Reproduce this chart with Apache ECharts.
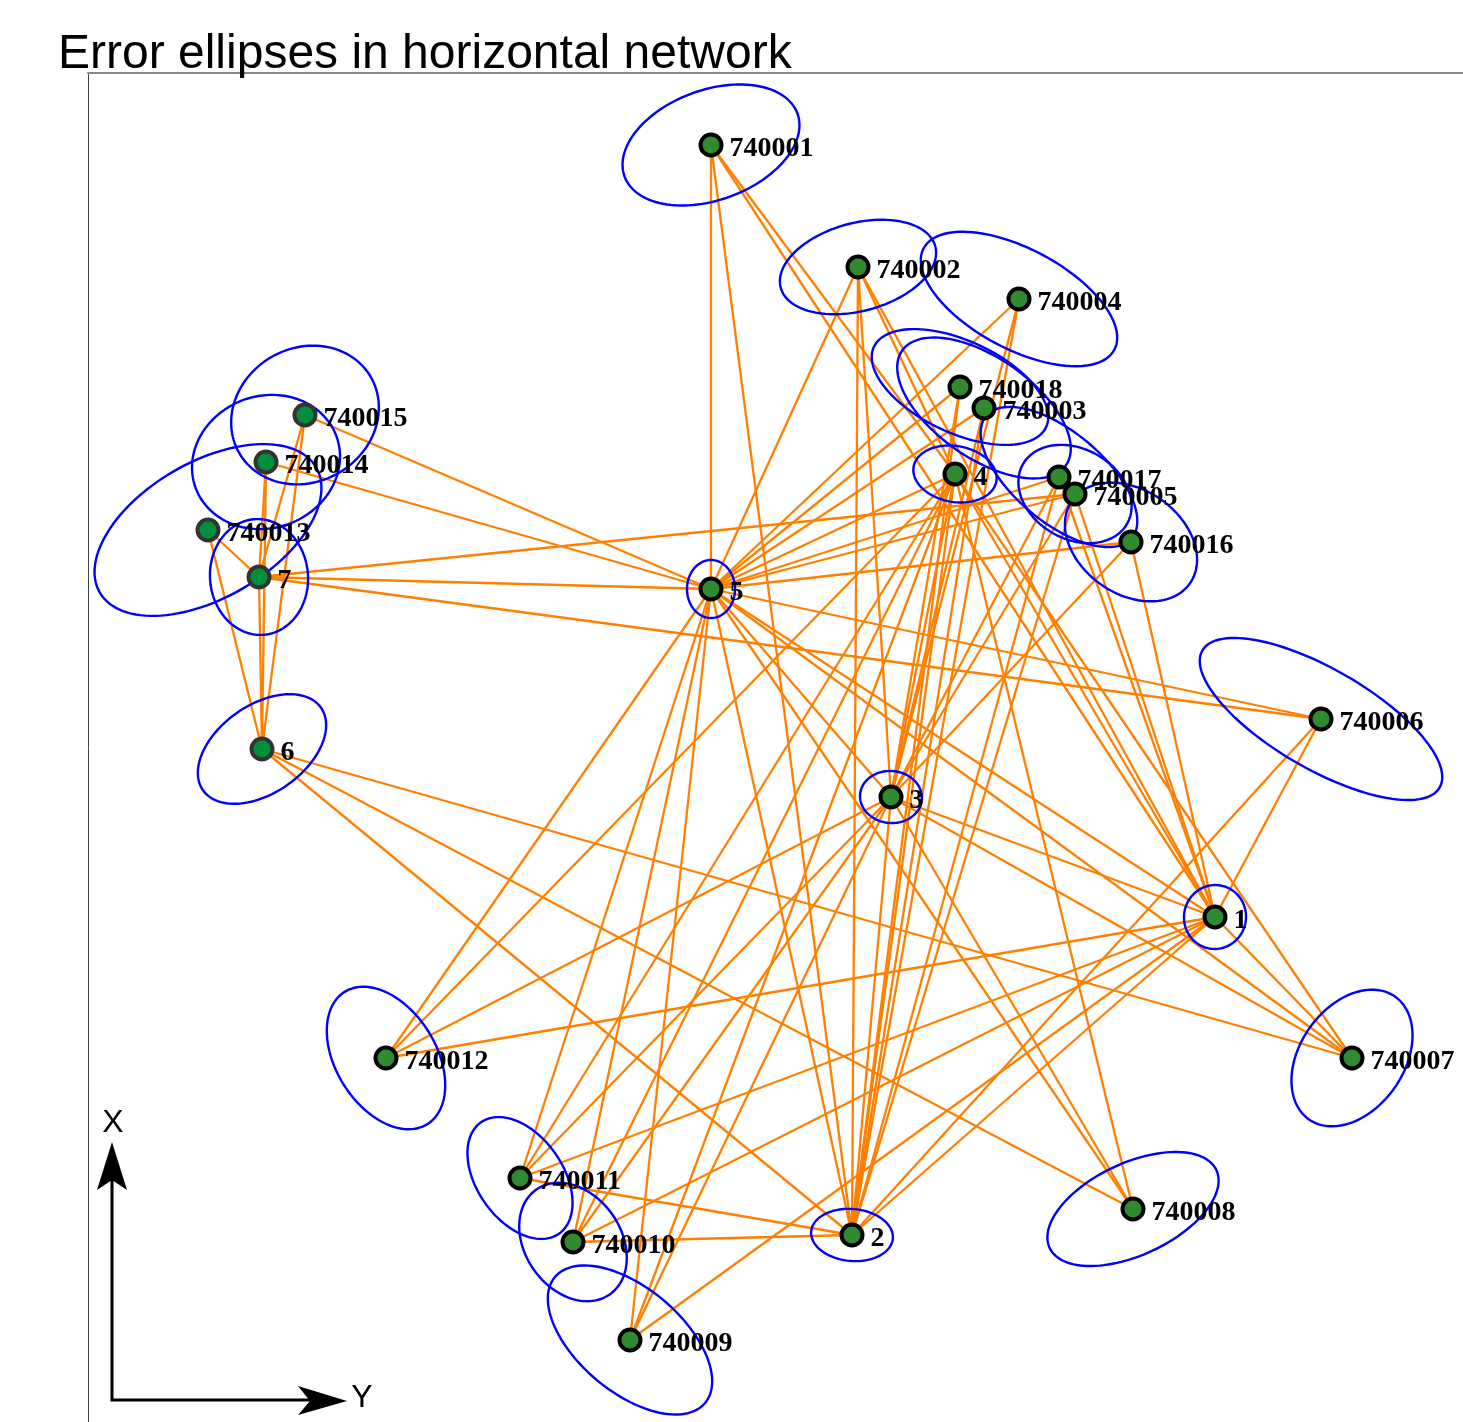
<!DOCTYPE html>
<html>
<head>
<meta charset="utf-8">
<script src="https://cdn.jsdelivr.net/npm/echarts@6/dist/echarts.min.js"></script>
<style>html,body{margin:0;padding:0;background:#fff;}#c{width:1463px;height:1422px;}</style>
</head>
<body>
<div id="c"></div>
<script>
// Point names and coordinates (East = horizontal "Y", North = vertical "X")
const names = ['740001','740002','740004','740018','740003','4','740017','740005','740016','740015','740014','740013','7','5','6','740006','3','1','740012','740007','740011','740010','2','740008','740009'];
const east  = [623, 770, 931, 872, 896, 867, 971, 987, 1043, 217, 178, 120, 171, 623, 174, 1233, 803, 1127, 298, 1264, 432, 485, 764, 1045, 542];
const north = [1277,1155,1123,1035,1014, 948, 945, 928, 880, 1007, 960, 892, 845, 833, 673, 703, 625, 505, 364, 364, 244, 180, 187, 213, 82];

// Error ellipse parameters (semi-major, semi-minor, rotation deg from East axis)
const semiMajor = [92, 80, 108, 95, 100, 42, 95, 60, 72, 76, 75, 125, 58, 29, 72, 137, 31, 32, 78, 75, 68, 64, 41, 92, 98];
const semiMinor = [55, 44, 50, 46, 50, 28, 45, 45, 52, 67, 66, 68, 49, 24, 44, 50, 26, 31, 50, 52, 43, 48, 26, 46, 52];
const rotation  = [20, 15, -28, -25, -35, -10, -40, -30, -35, 30, 20, 30, 95, 90, 35, -30, -5, 80, -58, 55, -55, -55, -5, 25, -40];

// Observations (station -> target)
const observations = [
  ['5','740001'],['5','740002'],['5','740004'],['5','740018'],['5','740003'],['5','4'],['5','740017'],['5','740005'],['5','740016'],
  ['5','740015'],['5','740014'],['5','7'],['5','740006'],['5','1'],['5','740007'],['5','3'],['5','740012'],['5','740011'],
  ['5','740010'],['5','740009'],['5','2'],['5','740008'],
  ['7','740015'],['7','740014'],['7','740013'],['7','6'],['7','740005'],['7','740006'],
  ['6','740015'],['6','740014'],['6','740013'],['6','740007'],['6','740008'],['6','2'],
  ['4','740001'],['4','740002'],['4','740012'],['4','740011'],['4','740010'],['4','740009'],['4','2'],['4','3'],['4','740008'],['4','740007'],['4','1'],
  ['3','740002'],['3','740004'],['3','740018'],['3','740003'],['3','740017'],['3','740005'],['3','740016'],['3','740012'],['3','740011'],
  ['3','740010'],['3','740009'],['3','2'],['3','740008'],['3','740007'],['3','1'],
  ['2','740001'],['2','740002'],['2','740004'],['2','740018'],['2','740003'],['2','740017'],['2','740005'],['2','740011'],['2','740010'],['2','740006'],['2','1'],
  ['1','740001'],['1','740002'],['1','740017'],['1','740005'],['1','740016'],['1','740006'],['1','740012'],['1','740011'],['1','740010'],['1','740009'],['1','740007']
];

const greyGroup = new Set(['6','7','740013','740014','740015']);

const idx = {};
names.forEach((n, i) => idx[n] = i);

const lineData = observations.map(([a, b]) => ({
  coords: [[east[idx[a]], north[idx[a]]], [east[idx[b]], north[idx[b]]]]
}));

const ellipseData = names.map((n, i) => [east[i], north[i], semiMajor[i], semiMinor[i], rotation[i]]);

const pointData = names.map((n, i) => ({
  value: [east[i], north[i], n],
  itemStyle: greyGroup.has(n)
    ? { color: '#00903c', borderColor: '#333333', borderWidth: 4, opacity: 1 }
    : { color: '#2f8a32', borderColor: '#000000', borderWidth: 4, opacity: 1 }
}));

const chart = echarts.init(document.getElementById('c'), null, { renderer: 'canvas' });

chart.setOption({
  animation: false,
  backgroundColor: '#ffffff',
  title: {
    text: 'Error ellipses in horizontal network',
    left: 53,
    top: 26,
    textStyle: { fontFamily: 'Liberation Sans', fontSize: 48, fontWeight: 'normal', color: '#000' }
  },
  grid: { left: 88, top: 73, right: 0, bottom: 0, containLabel: false },
  xAxis: {
    type: 'value', min: 0, max: 1375, position: 'top',
    axisLine: { show: true, onZero: false, lineStyle: { color: '#888888', width: 2 } },
    axisTick: { show: false }, axisLabel: { show: false }, splitLine: { show: false }
  },
  yAxis: {
    type: 'value', min: 0, max: 1349, position: 'left',
    axisLine: { show: true, onZero: false, lineStyle: { color: '#444444', width: 1 } },
    axisTick: { show: false }, axisLabel: { show: false }, splitLine: { show: false }
  },
  series: [
    {
      type: 'lines',
      coordinateSystem: 'cartesian2d',
      z: 1,
      silent: true,
      lineStyle: { color: '#ff8000', width: 2.3, opacity: 1 },
      data: lineData
    },
    {
      type: 'custom',
      z: 2,
      silent: true,
      clip: false,
      encode: { x: 0, y: 1 },
      data: ellipseData,
      renderItem: function (params, api) {
        const cx = api.value(0), cy = api.value(1);
        const a = api.value(2), b = api.value(3);
        const th = api.value(4) * Math.PI / 180;
        const pts = [];
        for (let k = 0; k < 120; k++) {
          const t = k / 120 * 2 * Math.PI;
          const lx = a * Math.cos(t), ly = b * Math.sin(t);
          const x = cx + lx * Math.cos(th) - ly * Math.sin(th);
          const y = cy + lx * Math.sin(th) + ly * Math.cos(th);
          pts.push(api.coord([x, y]));
        }
        return {
          type: 'polygon',
          shape: { points: pts },
          style: { fill: 'none', stroke: '#0000ff', lineWidth: 2.4 }
        };
      }
    },
    {
      type: 'scatter',
      z: 3,
      symbol: 'circle',
      symbolSize: 21,
      data: pointData,
      itemStyle: { opacity: 1 },
      label: {
        show: true,
        position: 'right',
        distance: 6,
        offset: [0, 4],
        formatter: p => p.value[2],
        fontFamily: 'Liberation Serif',
        fontWeight: 'bold',
        fontSize: 28,
        color: '#000',
        opacity: 1
      }
    }
  ],
  graphic: [
    { type: 'polyline', silent: true, shape: { points: [[112, 1178], [112, 1400], [314, 1400]] }, style: { stroke: '#000', lineWidth: 3, fill: 'none' } },
    { type: 'polygon', silent: true, shape: { points: [[112, 1142], [127, 1190], [112, 1180], [97, 1190]] }, style: { fill: '#000' } },
    { type: 'polygon', silent: true, shape: { points: [[347, 1401], [298, 1415], [310, 1401], [298, 1386]] }, style: { fill: '#000' } },
    { type: 'text', silent: true, x: 113, y: 1123, style: { text: 'X', fontFamily: 'Liberation Sans', fontSize: 32, fill: '#000', align: 'center', verticalAlign: 'middle' } },
    { type: 'text', silent: true, x: 362, y: 1398, style: { text: 'Y', fontFamily: 'Liberation Sans', fontSize: 32, fill: '#000', align: 'center', verticalAlign: 'middle' } }
  ]
});
</script>
</body>
</html>
